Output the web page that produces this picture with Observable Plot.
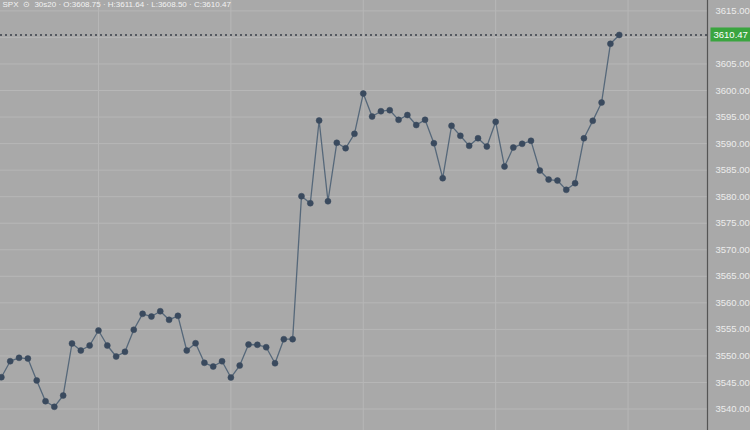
<!DOCTYPE html>
<html>
<head>
<meta charset="utf-8">
<script src="https://cdn.jsdelivr.net/npm/d3@7"></script>
<script src="https://cdn.jsdelivr.net/npm/@observablehq/plot@0.6"></script>
<style>
  html, body { margin: 0; padding: 0; background: #a9a9a9; overflow: hidden; }
  #chart svg { display: block; }
</style>
</head>
<body>
<div id="chart"></div>
<script>
const prices = [
  3545.99, 3549.00, 3549.64, 3549.51, 3545.37, 3541.47, 3540.41, 3542.54, 3552.34, 3551.02,
  3551.96, 3554.79, 3551.96, 3549.89, 3550.77, 3554.92, 3557.93, 3557.42, 3558.42, 3556.80,
  3557.55, 3551.02, 3552.39, 3548.70, 3548.00, 3549.00, 3545.93, 3548.19, 3552.15, 3552.10,
  3551.64, 3548.62, 3553.15, 3553.15, 3580.09, 3578.77, 3594.35, 3579.14, 3590.15, 3589.13,
  3591.84, 3599.43, 3595.10, 3596.10, 3596.29, 3594.48, 3595.38, 3593.50, 3594.48, 3590.07,
  3583.48, 3593.35, 3591.47, 3589.58, 3591.01, 3589.45, 3594.10, 3585.68, 3589.26, 3589.96,
  3590.52, 3584.93, 3583.23, 3583.04, 3581.29, 3582.54, 3591.01, 3594.29, 3597.74, 3608.80,
  3610.47
];
const yTicks = [3540, 3545, 3550, 3555, 3560, 3565, 3570, 3575, 3580, 3585, 3590, 3595, 3600, 3605, 3610, 3615];
const timeGrid = [11, 26, 41, 56, 71];
const lastPrice = [3610.47];
const headerText = ["SPX  ⊙  30s20 · O:3608.75 · H:3611.64 · L:3608.50 · C:3610.47"];

const data = prices.map((v, i) => ({i, v}));
const fmt = d3.format(".2f");

const chart = Plot.plot({
  width: 750,
  height: 430,
  marginLeft: 0,
  marginRight: 43,
  marginTop: 0,
  marginBottom: 0,
  style: {background: "#a9a9a9", fontFamily: "Liberation Sans, Arial, sans-serif"},
  x: {domain: [-0.1, 80], axis: null},
  y: {domain: [3535.95, 3616.96], axis: null},
  marks: [
    Plot.ruleY(yTicks, {stroke: "#b7b7b7", strokeWidth: 1}),
    Plot.ruleX(timeGrid, {stroke: "#b7b7b7", strokeWidth: 1}),
    Plot.frame({anchor: "right", stroke: "#555", strokeWidth: 1.2}),
    Plot.ruleY(lastPrice, {stroke: "#3a3f48", strokeWidth: 1.5, strokeDasharray: "2,3"}),
    Plot.line(data, {x: "i", y: "v", stroke: "#56687a", strokeWidth: 1.3}),
    Plot.dot(data, {x: "i", y: "v", r: 3, fill: "#3a4a5e", stroke: "#3a4a5e", strokeWidth: 0.5}),
    Plot.axisY(yTicks.filter(t => Math.abs(t - 3610) > 2), {
      anchor: "right", tickSize: 0, tickPadding: 8, textAnchor: "start",
      tickFormat: fmt, fill: "#ececec", fontSize: 9.5, label: null
    }),
    Plot.text(lastPrice, {
      x: 80, y: d => d, dx: 6, text: d => fmt(d), textAnchor: "start",
      fill: "#ffffff", fontSize: 9.5, clip: false
    }),
    Plot.text(headerText, {
      frameAnchor: "top-left", dx: 2, dy: 1, lineAnchor: "top", text: d => d, fill: "#f2f2f2", fontSize: 8
    })
  ]
});

document.getElementById("chart").append(chart);

// Green price badge behind the last-price label
const svg = d3.select(chart);
svg.selectAll("text").filter(function() { return this.textContent === "3610.47" && !this.closest("[aria-label='y-axis tick label']"); })
  .each(function() {
    const bb = this.getBBox();
    const tr = this.getAttribute("transform");
    const r = d3.select(this.parentNode).insert("rect", () => this)
      .attr("x", bb.x - 3).attr("y", bb.y - 1.5)
      .attr("width", bb.width + 6).attr("height", bb.height + 3)
      .attr("fill", "#3aa53f");
    if (tr) r.attr("transform", tr);
  });
</script>
</body>
</html>
